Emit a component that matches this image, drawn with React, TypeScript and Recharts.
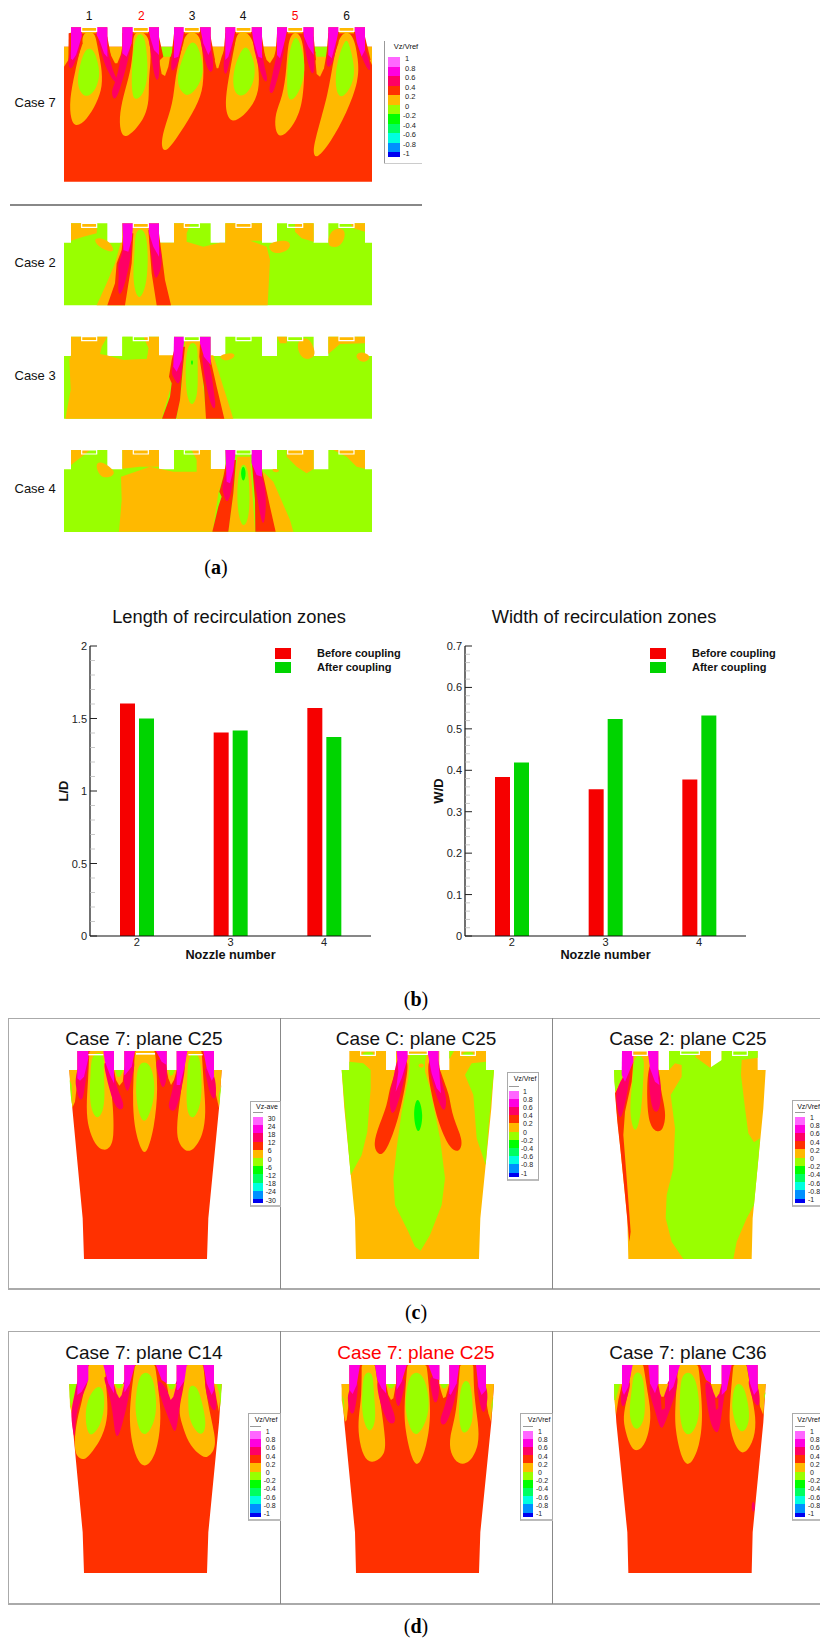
import React from 'react';
import { BarChart, Bar, XAxis, YAxis, Legend, ScatterChart, Scatter } from 'recharts';

const SANS = '"Liberation Sans", Arial, sans-serif';
const SERIF = '"Liberation Serif", serif';

// ---------- bar chart data ----------
const nozzleNumbers = ['2', '3', '4'];
const lengthBefore = [1.604, 1.404, 1.572];
const lengthAfter = [1.5, 1.418, 1.372];
const widthBefore = [0.384, 0.354, 0.378];
const widthAfter = [0.419, 0.524, 0.532];
const lengthTicks = [0, 0.1, 0.2, 0.3, 0.4, 0.5, 0.6, 0.7, 0.8, 0.9, 1, 1.1, 1.2, 1.3, 1.4, 1.5, 1.6, 1.7, 1.8, 1.9, 2];
const lengthMajor = [0, 0.5, 1, 1.5, 2];
const widthTicks = [0, 0.02, 0.04, 0.06, 0.08, 0.1, 0.12, 0.14, 0.16, 0.18, 0.2, 0.22, 0.24, 0.26, 0.28, 0.3, 0.32, 0.34, 0.36, 0.38, 0.4, 0.42, 0.44, 0.46, 0.48, 0.5, 0.52, 0.54, 0.56, 0.58, 0.6, 0.62, 0.64, 0.66, 0.68, 0.7];
const widthMajor = [0, 0.1, 0.2, 0.3, 0.4, 0.5, 0.6, 0.7];
const RED_BAR = '#f60000';
const GREEN_BAR = '#00d400';

// ---------- contour colours ----------
const OR = '#ffb900';
const RD = '#ff3000';
const RO = '#ff0064';
const MG = '#ff00e0';
const LM = '#99ff00';
const GR = '#00ff00';
const bandColors = ['#ffffff', '#ff66ff', '#ff00e0', '#ff0064', '#ff3000', '#ffb900', '#99ff00', '#00ff00', '#00ff60', '#00ffe0', '#0090ff', '#0000f0'];
const vrefLabels = ['1', '0.8', '0.6', '0.4', '0.2', '0', '-0.2', '-0.4', '-0.6', '-0.8', '-1'];
const aveLabels = ['30', '24', '18', '12', '6', '0', '-6', '-12', '-18', '-24', '-30'];

type Layer = { fill: string; stroke?: string; curve: string; pts: number[] };
const blob = (fill: string, pts: number[]): Layer => ({ fill, curve: 'basisClosed', pts });
const poly = (fill: string, pts: number[]): Layer => ({ fill, curve: fill === RO ? 'basisClosed' : 'linearClosed', pts });
const mark = (pts: number[]): Layer => ({ fill: 'none', stroke: '#ffffff', curve: 'linearClosed', pts });
const dropY = (pts: number[], dy: number) => pts.map((v, i) => (i % 2 ? v + dy : v));

// ---------- (a) strip silhouette ----------
const stripOutline = [192, 128, 213, 128, 213, 70, 322, 70, 322, 128, 367, 128, 367, 70, 477, 70, 477, 128, 522, 128, 522, 70, 632, 70, 632, 128, 676, 128, 676, 70, 786, 70, 786, 128, 831, 128, 831, 70, 941, 70, 941, 128, 985, 128, 985, 70, 1095, 70, 1095, 128, 1116, 128, 1116, 316, 192, 316];
const stripMarks = [[245, 70, 290, 70, 290, 82, 245, 82], [400, 70, 445, 70, 445, 82, 400, 82], [553, 70, 598, 70, 598, 82, 553, 82], [708, 70, 753, 70, 753, 82, 708, 82], [863, 70, 908, 70, 908, 82, 863, 82], [1017, 70, 1062, 70, 1062, 82, 1017, 82]];

const case7Layers: Layer[] = [
  poly(RD, dropY(stripOutline, 12).map((v, i) => (i % 2 && v === 328 ? 545 : v))),
  poly(OR, [192, 140, 213, 140, 213, 150, 205, 180, 192, 200]),
  poly(OR, [322, 140, 367, 140, 362, 165, 352, 190, 345, 190, 335, 170]),
  poly(OR, [478, 160, 512, 160, 505, 200, 495, 228, 485, 222, 480, 195]),
  poly(LM, [477, 140, 522, 140, 512, 170, 487, 170]),
  poly(OR, [632, 140, 676, 140, 665, 170, 655, 205, 650, 205, 640, 165]),
  poly(OR, [786, 140, 831, 140, 822, 170, 810, 190, 800, 180]),
  poly(OR, [945, 160, 980, 160, 972, 205, 960, 230, 950, 222, 947, 190]),
  poly(LM, [941, 140, 985, 140, 977, 170, 950, 170]),
  poly(OR, [1095, 140, 1116, 140, 1116, 195, 1105, 170]),
  blob(OR, [250, 95, 285, 95, 290, 130, 305, 200, 308, 260, 290, 310, 260, 360, 228, 382, 212, 360, 208, 300, 225, 215, 245, 130]),
  blob(LM, [258, 145, 280, 145, 295, 190, 300, 230, 285, 275, 258, 295, 235, 270, 232, 230, 245, 175]),
  blob(OR, [400, 95, 445, 95, 455, 170, 445, 240, 448, 300, 435, 350, 410, 385, 375, 417, 360, 395, 358, 340, 375, 270, 395, 200, 400, 130]),
  blob(LM, [405, 100, 432, 100, 440, 150, 445, 230, 430, 285, 405, 303, 395, 280, 395, 200]),
  blob(OR, [555, 95, 600, 95, 610, 170, 612, 260, 590, 320, 540, 400, 500, 458, 482, 445, 490, 390, 520, 310, 525, 230, 545, 150]),
  blob(LM, [568, 125, 590, 125, 610, 190, 608, 240, 570, 292, 545, 280, 528, 240, 545, 180]),
  blob(OR, [712, 95, 750, 95, 770, 160, 780, 240, 770, 300, 730, 350, 695, 368, 680, 345, 675, 300, 690, 210, 705, 130]),
  blob(LM, [728, 140, 745, 140, 765, 190, 765, 240, 740, 285, 715, 290, 698, 265, 700, 205]),
  blob(OR, [865, 95, 905, 95, 915, 180, 910, 300, 890, 360, 860, 400, 838, 412, 825, 390, 825, 340, 848, 290, 860, 210]),
  blob(LM, [880, 110, 895, 110, 915, 180, 912, 240, 890, 290, 870, 305, 860, 280, 862, 180]),
  blob(OR, [1020, 95, 1060, 95, 1075, 180, 1077, 240, 1040, 340, 990, 430, 950, 478, 937, 460, 950, 400, 985, 280, 1000, 180]),
  blob(LM, [1035, 120, 1045, 120, 1065, 200, 1060, 250, 1030, 295, 1010, 285, 1005, 230, 1015, 170]),
  poly(OR, [245, 82, 290, 82, 290, 100, 245, 100]), poly(OR, [400, 82, 445, 82, 445, 100, 400, 100]), poly(OR, [553, 82, 598, 82, 598, 100, 553, 100]), poly(OR, [708, 82, 753, 82, 753, 100, 708, 100]), poly(OR, [863, 82, 908, 82, 908, 100, 863, 100]), poly(OR, [1017, 82, 1062, 82, 1062, 100, 1017, 100]),
  poly(RD, [206, 100, 245, 90, 248, 130, 228, 190, 205, 190]), poly(RD, [290, 90, 322, 110, 335, 180, 320, 190, 296, 130]),
  poly(RD, [367, 100, 400, 90, 398, 130, 380, 185, 367, 190]), poly(RD, [445, 90, 477, 110, 490, 170, 470, 190, 450, 140]),
  poly(RD, [522, 100, 554, 90, 550, 130, 530, 200, 512, 190]), poly(RD, [598, 90, 632, 110, 645, 180, 625, 200, 605, 130]),
  poly(RD, [676, 100, 708, 90, 705, 130, 685, 190, 668, 190]), poly(RD, [753, 90, 786, 110, 795, 170, 775, 185, 760, 130]),
  poly(RD, [831, 100, 863, 90, 860, 130, 840, 190, 825, 180]), poly(RD, [908, 90, 941, 110, 948, 180, 930, 190, 915, 130]),
  poly(RD, [985, 100, 1018, 90, 1015, 130, 995, 190, 978, 180]), poly(RD, [1062, 90, 1095, 110, 1112, 180, 1085, 190, 1070, 130]),
  poly(RO, [213, 120, 245, 100, 238, 150, 222, 195, 212, 210, 204, 195, 207, 170, 213, 150]),
  poly(MG, [213, 82, 245, 82, 245, 110, 228, 165, 218, 180, 213, 175]),
  poly(RO, [290, 100, 322, 130, 330, 185, 345, 230, 358, 245, 345, 250, 330, 225, 312, 190, 300, 140]),
  poly(MG, [290, 82, 322, 82, 322, 172, 312, 160, 300, 125, 290, 105]),
  poly(RO, [367, 140, 398, 110, 385, 180, 365, 250, 350, 295, 340, 298, 333, 275, 345, 250, 358, 200]),
  poly(MG, [367, 82, 400, 82, 395, 130, 380, 170, 367, 160]),
  poly(RO, [445, 100, 477, 130, 478, 180, 478, 235, 470, 245, 460, 215, 450, 140]),
  poly(MG, [445, 82, 477, 82, 477, 165, 462, 150, 450, 110]),
  poly(RO, [522, 150, 550, 110, 535, 190, 520, 215, 512, 210, 515, 170]),
  poly(MG, [522, 82, 554, 82, 548, 120, 535, 170, 522, 175]),
  poly(RO, [600, 105, 632, 130, 640, 180, 640, 210, 630, 220, 618, 195, 605, 140]),
  poly(MG, [600, 82, 632, 82, 632, 150, 625, 165, 610, 130]),
  poly(RO, [670, 190, 676, 150, 705, 110, 690, 180, 680, 225, 672, 220]),
  poly(MG, [676, 82, 708, 82, 700, 120, 685, 170, 676, 180]),
  poly(RO, [755, 110, 786, 140, 790, 190, 805, 240, 795, 250, 780, 215, 765, 160]),
  poly(MG, [754, 82, 786, 82, 786, 175, 775, 170, 760, 120]),
  poly(RO, [831, 150, 860, 110, 845, 190, 825, 265, 815, 285, 805, 270, 815, 240]),
  poly(MG, [831, 82, 863, 82, 855, 120, 840, 175, 831, 165]),
  poly(RO, [908, 100, 941, 135, 945, 200, 940, 225, 930, 215, 915, 150]),
  poly(MG, [908, 82, 941, 82, 941, 165, 925, 140, 912, 110]),
  poly(RO, [985, 150, 1015, 110, 1000, 190, 985, 205, 977, 190]),
  poly(MG, [985, 82, 1018, 82, 1010, 120, 995, 175, 985, 165]),
  poly(RO, [1063, 110, 1095, 140, 1110, 190, 1112, 215, 1100, 205, 1080, 160]),
  poly(MG, [1063, 82, 1095, 82, 1095, 150, 1085, 170, 1070, 125]),
  ...stripMarks.map((m) => mark(dropY(m, 12))),
];

const case2Layers: Layer[] = [
  poly(LM, stripOutline),
  poly(OR, [213, 70, 292, 70, 290, 100, 250, 110, 213, 122]),
  blob(OR, [280, 118, 300, 112, 330, 125, 345, 155, 325, 155, 295, 140]),
  poly(OR, [290, 316, 320, 250, 345, 190, 362, 128, 367, 128, 367, 70, 477, 70, 477, 128, 522, 128, 522, 70, 572, 70, 560, 100, 560, 125, 610, 140, 660, 128, 676, 128, 676, 70, 786, 70, 786, 122, 750, 122, 800, 140, 810, 180, 803, 316]),
  blob(LM, [405, 85, 440, 85, 445, 190, 438, 260, 420, 300, 405, 280, 398, 220, 405, 150]),
  blob(OR, [805, 128, 860, 118, 875, 135, 860, 155, 825, 162, 808, 150]),
  poly(OR, [885, 70, 941, 70, 941, 125, 905, 115, 885, 95]),
  blob(OR, [985, 135, 985, 110, 1000, 85, 1035, 85, 1035, 115, 1020, 140, 995, 142]),
  poly(OR, [1050, 70, 1095, 70, 1095, 95, 1060, 85]),
  poly(RD, [370, 100, 400, 100, 395, 190, 375, 316, 322, 316, 345, 250, 350, 190, 365, 150]),
  poly(RO, [370, 130, 400, 110, 390, 190, 365, 290, 352, 280, 358, 220, 352, 195, 365, 170]),
  poly(MG, [367, 70, 400, 70, 395, 120, 385, 155, 370, 150]),
  poly(RD, [445, 90, 477, 100, 490, 200, 495, 240, 513, 316, 470, 316, 455, 220]),
  poly(RO, [445, 100, 477, 120, 490, 190, 470, 240, 462, 230, 452, 150]),
  poly(MG, [445, 70, 477, 70, 477, 170, 460, 140, 447, 100]),
  ...stripMarks.map(mark),
];

const case3Layers: Layer[] = [
  poly(LM, dropY(stripOutline, 340)),
  poly(OR, [213, 410, 322, 410, 305, 440, 300, 462, 320, 466, 370, 480, 440, 476, 445, 445, 430, 410, 477, 410, 477, 466, 522, 466, 515, 520, 510, 570, 485, 656, 196, 656, 212, 570, 208, 480, 213, 466]),
  poly(OR, [632, 466, 640, 466, 700, 656, 660, 656, 620, 480]),
  poly(LM, [367, 410, 430, 410, 445, 445, 440, 476, 370, 476, 367, 466]),
  poly(OR, [555, 420, 600, 420, 610, 560, 620, 656, 530, 656, 545, 560]),
  blob(LM, [560, 425, 595, 425, 592, 500, 595, 580, 578, 622, 562, 600, 555, 530]),
  blob(GR, [576, 478, 580, 487, 576, 498, 572, 487]),
  blob(OR, [655, 466, 700, 456, 708, 470, 680, 484, 665, 478]),
  poly(OR, [831, 410, 860, 410, 860, 430, 840, 430]),
  blob(OR, [890, 420, 925, 410, 941, 440, 948, 470, 915, 482, 895, 460]),
  poly(OR, [985, 410, 1095, 410, 1095, 430, 1020, 432, 985, 462]),
  blob(OR, [1065, 465, 1085, 453, 1117, 470, 1095, 489, 1075, 482]),
  poly(RD, [525, 440, 555, 440, 548, 510, 540, 600, 528, 656, 486, 656, 510, 590, 515, 550, 507, 530, 515, 480]),
  poly(RO, [525, 470, 553, 430, 545, 530, 535, 560, 520, 530, 512, 520]),
  poly(MG, [522, 410, 554, 410, 545, 480, 530, 515, 520, 500]),
  poly(RD, [600, 430, 632, 480, 650, 560, 673, 656, 618, 656, 612, 560, 598, 470]),
  poly(RO, [600, 440, 632, 490, 640, 570, 650, 625, 635, 630, 615, 540]),
  poly(MG, [600, 410, 632, 410, 632, 495, 612, 470, 600, 430]),
  ...stripMarks.map((m) => mark(dropY(m, 340))),
];

const case4Layers: Layer[] = [
  poly(LM, dropY(stripOutline, 680)),
  poly(OR, [213, 750, 270, 750, 245, 770, 213, 795]),
  blob(OR, [285, 795, 300, 780, 352, 815, 330, 834, 300, 832]),
  poly(OR, [367, 750, 477, 750, 477, 800, 420, 800, 367, 806]),
  poly(OR, [363, 830, 450, 800, 520, 815, 590, 815, 590, 780, 575, 750, 632, 750, 632, 807, 676, 807, 655, 880, 638, 995, 357, 995, 365, 900]),
  poly(OR, [712, 770, 750, 770, 765, 995, 685, 995, 700, 880]),
  blob(LM, [718, 790, 745, 790, 750, 900, 745, 960, 730, 985, 715, 950, 710, 880]),
  blob(GR, [730, 790, 740, 820, 730, 852, 720, 820]),
  poly(OR, [790, 815, 820, 845, 870, 960, 880, 995, 825, 995, 790, 860]),
  poly(OR, [860, 750, 941, 750, 941, 807, 920, 820, 890, 800, 860, 770]),
  blob(OR, [815, 805, 840, 808, 835, 818, 818, 816]),
  poly(OR, [1000, 750, 1095, 750, 1095, 806, 1070, 800, 1040, 770]),
  poly(RD, [680, 780, 708, 780, 700, 880, 685, 995, 637, 995, 655, 920, 665, 890, 658, 875, 670, 830]),
  poly(RO, [680, 810, 708, 780, 695, 880, 680, 915, 670, 880, 665, 860]),
  poly(MG, [676, 750, 708, 750, 700, 810, 690, 850, 680, 845]),
  poly(RD, [755, 780, 786, 810, 810, 920, 827, 995, 766, 995, 765, 900]),
  poly(RO, [755, 790, 786, 815, 800, 880, 795, 970, 785, 975, 770, 880]),
  poly(MG, [754, 750, 786, 750, 786, 830, 770, 825, 755, 790]),
  ...stripMarks.map((m) => mark(dropY(m, 680))),
];

// ---------- (c), (d) silhouettes ----------
const leftBody = [28, 75, 52, 75, 52, 18, 162, 18, 162, 75, 193, 75, 193, 18, 320, 18, 320, 75, 350, 75, 350, 18, 462, 18, 462, 75, 485, 75, 477, 190, 445, 520, 441, 642, 72, 642, 68, 520, 37, 190];
const midBody = [35, 75, 58, 75, 58, 18, 168, 18, 168, 75, 198, 75, 198, 18, 328, 18, 328, 75, 358, 75, 358, 18, 468, 18, 468, 75, 492, 75, 484, 190, 451, 520, 447, 642, 78, 642, 75, 520, 43, 190];
const rightBody = [42, 75, 66, 75, 66, 18, 175, 18, 175, 75, 207, 75, 207, 18, 333, 18, 333, 75, 365, 75, 365, 18, 473, 18, 473, 75, 497, 75, 490, 190, 458, 520, 455, 642, 85, 642, 82, 520, 49, 190];
const marksLeft = [[85, 27, 130, 27, 130, 31, 85, 31], [228, 24, 285, 24, 285, 29, 228, 29], [385, 27, 428, 27, 428, 31, 385, 31]];
const marksMid = [[92, 18, 136, 18, 136, 31, 92, 31], [235, 18, 292, 18, 292, 28, 235, 28], [392, 18, 436, 18, 436, 31, 392, 31]];
const marksRight = [[98, 18, 142, 18, 142, 31, 98, 31], [242, 18, 298, 18, 298, 28, 242, 28], [398, 18, 442, 18, 442, 31, 398, 31]];

const c1Layers: Layer[] = [
  poly(RD, leftBody),
  poly(OR, [28, 75, 52, 75, 52, 110, 45, 170, 37, 188, 30, 110]),
  poly(LM, [29, 105, 35, 120, 37, 185, 32, 150]),
  poly(OR, [462, 75, 485, 75, 477, 188, 468, 150, 462, 100]),
  poly(LM, [484, 120, 478, 180, 476, 150]),
  poly(OR, [162, 75, 193, 75, 188, 110, 178, 122, 168, 105]),
  poly(LM, [165, 75, 190, 75, 180, 95, 172, 95]),
  poly(OR, [320, 75, 350, 75, 342, 105, 333, 120, 325, 100]),
  poly(LM, [325, 75, 345, 75, 338, 90, 330, 92]),
  blob(OR, [88, 18, 88, 18, 145, 18, 145, 18, 150, 100, 160, 190, 162, 280, 150, 310, 130, 318, 105, 300, 85, 250, 78, 190, 85, 100]),
  blob(LM, [95, 22, 135, 22, 130, 70, 135, 150, 130, 200, 112, 225, 95, 200, 88, 150, 92, 80]),
  blob(OR, [225, 18, 225, 18, 285, 18, 285, 18, 295, 130, 283, 250, 260, 328, 245, 320, 225, 260, 218, 180, 220, 100]),
  blob(LM, [235, 50, 270, 50, 285, 110, 282, 170, 258, 238, 240, 220, 228, 160, 228, 110]),
  blob(OR, [380, 18, 380, 18, 425, 18, 425, 18, 432, 130, 438, 200, 430, 270, 400, 318, 375, 320, 352, 290, 350, 240, 360, 160]),
  blob(LM, [385, 22, 420, 22, 425, 100, 425, 170, 405, 222, 385, 215, 378, 170, 382, 100]),
  poly(RO, [52, 60, 85, 30, 85, 60, 75, 120, 68, 170, 55, 160, 50, 130, 45, 115]),
  poly(MG, [52, 18, 85, 18, 85, 40, 72, 95, 60, 107, 52, 100]),
  poly(RO, [130, 40, 162, 80, 170, 130, 195, 180, 185, 198, 165, 185, 150, 140, 135, 80]),
  poly(MG, [130, 18, 162, 18, 162, 115, 150, 90, 135, 50]),
  poly(RO, [193, 50, 230, 40, 215, 100, 205, 145, 195, 130, 190, 100]),
  poly(MG, [193, 18, 225, 18, 215, 65, 195, 90, 193, 90]),
  poly(RO, [283, 40, 320, 40, 322, 90, 315, 125, 305, 130, 295, 90]),
  poly(MG, [288, 18, 320, 18, 320, 60, 305, 50]),
  poly(RO, [345, 90, 382, 40, 365, 130, 350, 195, 335, 200, 322, 185, 335, 150]),
  poly(MG, [350, 18, 382, 18, 375, 60, 360, 120, 350, 120]),
  poly(RO, [430, 60, 462, 80, 470, 130, 465, 170, 450, 150, 440, 100]),
  poly(MG, [430, 18, 462, 18, 462, 95, 455, 107, 440, 70]),
  ...marksLeft.map((m) => poly('#ffffff', m)),
];

const c2Layers: Layer[] = [
  poly(OR, midBody),
  poly(LM, [35, 75, 58, 75, 58, 50, 100, 55, 122, 75, 122, 130, 112, 260, 95, 330, 62, 390, 50, 250]),
  blob(LM, [95, 20, 135, 20, 128, 35, 100, 35]),
  poly(LM, [240, 26, 290, 26, 285, 50, 285, 80, 300, 130, 330, 280, 345, 400, 335, 480, 300, 570, 272, 617, 255, 605, 235, 560, 195, 480, 190, 400, 200, 310, 215, 200, 235, 100]),
  blob(OR, [265, 55, 282, 55, 282, 68, 265, 68]),
  poly(LM, [468, 50, 425, 55, 405, 90, 430, 150, 440, 280, 467, 360, 475, 250, 492, 75, 468, 75]),
  poly(LM, [358, 18, 372, 18, 358, 42]),
  blob(LM, [395, 20, 435, 20, 428, 35, 400, 35]),
  blob(GR, [262, 142, 283, 210, 265, 282, 247, 210]),
  blob(RD, [205, 40, 238, 40, 228, 110, 208, 215, 168, 325, 145, 332, 128, 300, 148, 238, 172, 180, 178, 130, 198, 80]),
  poly(RO, [200, 30, 235, 30, 225, 100, 195, 210, 180, 205, 178, 140, 190, 110]),
  poly(MG, [200, 18, 233, 18, 233, 40, 215, 100, 197, 140, 205, 80]),
  blob(RD, [288, 40, 320, 40, 347, 125, 358, 150, 368, 220, 400, 285, 390, 322, 362, 316, 326, 240, 302, 140]),
  poly(RO, [290, 30, 328, 30, 330, 100, 352, 155, 345, 210, 325, 170, 305, 110]),
  poly(MG, [292, 18, 326, 18, 326, 60, 333, 145, 320, 130, 305, 85]),
  ...marksMid.map(mark),
];

const c3Layers: Layer[] = [
  poly(OR, rightBody),
  poly(LM, [42, 75, 66, 75, 66, 100, 46, 140, 43, 110]),
  blob(LM, [100, 30, 135, 30, 130, 90, 125, 200, 108, 272, 92, 230, 90, 170, 100, 90]),
  poly(LM, [207, 18, 300, 18, 285, 35, 330, 68, 365, 45, 365, 18, 473, 18, 473, 38, 425, 45, 423, 90, 435, 190, 445, 265, 462, 292, 480, 280, 476, 330, 462, 480, 440, 520, 410, 590, 400, 642, 250, 642, 215, 590, 197, 520, 200, 450, 220, 370, 225, 250, 212, 150, 245, 95, 245, 60, 225, 55, 207, 75]),
  poly(RD, [45, 145, 70, 100, 100, 50, 95, 110, 75, 200, 70, 270, 80, 400, 92, 560, 88, 590, 75, 450, 62, 320, 52, 230]),
  poly(RO, [45, 145, 65, 100, 95, 60, 85, 130, 62, 240, 52, 190]),
  poly(MG, [66, 18, 100, 18, 100, 50, 75, 110, 65, 90]),
  blob(RD, [143, 50, 175, 50, 175, 90, 190, 170, 198, 210, 190, 255, 170, 263, 148, 240, 140, 170]),
  poly(RO, [145, 40, 175, 60, 185, 130, 180, 200, 160, 205, 148, 150]),
  poly(MG, [143, 18, 175, 18, 175, 100, 178, 120, 165, 110, 150, 70]),
  ...marksRight.map(mark),
];

const d1Layers: Layer[] = [
  poly(RD, dropY(leftBody, -63)),
  poly(OR, [28, 12, 52, 12, 52, 50, 35, 100, 30, 80]),
  poly(LM, [28, 12, 52, 12, 45, 35, 33, 85, 29, 50]),
  blob(OR, [85, -45, 85, -45, 135, -45, 135, -45, 140, 40, 145, 100, 130, 170, 85, 232, 70, 240, 48, 230, 42, 190, 50, 120, 70, 50]),
  blob(LM, [110, 15, 130, 25, 135, 70, 125, 130, 100, 165, 85, 165, 75, 120, 80, 60]),
  poly(RO, [52, -10, 85, -20, 85, 10, 60, 60, 45, 120, 45, 190, 35, 130, 33, 90, 45, 40]),
  poly(MG, [52, -45, 85, -45, 85, 0, 65, 35, 52, 45]),
  poly(RO, [130, -20, 162, 10, 178, 55, 193, -10, 215, -10, 205, 60, 190, 120, 175, 175, 165, 165, 160, 110, 150, 50, 135, 10]),
  poly(OR, [162, 12, 193, 12, 185, 45, 178, 55, 170, 40]),
  poly(LM, [165, 12, 190, 12, 183, 25, 172, 25]),
  poly(MG, [130, -45, 162, -45, 162, 40, 145, 10]),
  poly(MG, [193, -45, 225, -45, 210, 10, 195, 35, 193, 35]),
  blob(OR, [225, -45, 225, -45, 285, -45, 285, -45, 300, 60, 303, 130, 290, 220, 260, 264, 235, 250, 215, 190, 208, 120, 212, 50]),
  blob(LM, [240, -25, 275, -25, 290, 50, 288, 120, 258, 173, 235, 150, 225, 90, 228, 40]),
  poly(RO, [288, -10, 318, 20, 332, 60, 350, -10, 382, -20, 365, 40, 355, 110, 347, 165, 335, 140, 320, 100, 300, 50]),
  poly(OR, [320, 12, 350, 12, 340, 50, 332, 60, 325, 40]),
  poly(LM, [323, 12, 347, 12, 340, 28, 330, 28]),
  poly(MG, [288, -45, 320, -45, 320, 10, 305, 0]),
  poly(MG, [350, -45, 382, -45, 375, 0, 355, 30, 350, 30]),
  blob(OR, [380, -45, 380, -45, 430, -45, 430, -45, 440, 60, 467, 170, 465, 210, 440, 238, 415, 222, 385, 190, 365, 130, 355, 90, 370, 30]),
  blob(LM, [385, 15, 410, 15, 425, 60, 440, 130, 430, 165, 410, 160, 385, 115, 385, 60]),
  poly(RO, [430, -20, 462, -10, 470, 50, 470, 95, 455, 90, 440, 50]),
  poly(MG, [430, -45, 462, -45, 462, 30, 455, 45, 440, 10]),
  poly(OR, [462, 12, 485, 12, 477, 95, 470, 60]),
  poly(LM, [485, 12, 470, 12, 478, 40, 482, 80]),
];

const d2Layers: Layer[] = [
  poly(RD, dropY(midBody, -63)),
  poly(OR, [35, 12, 58, 12, 58, 50, 50, 120, 45, 125, 35, 60]),
  poly(LM, [36, 45, 42, 60, 43, 100]),
  poly(OR, [468, 12, 492, 12, 483, 125, 475, 100, 468, 60]),
  poly(LM, [490, 50, 486, 100, 484, 75]),
  blob(OR, [95, -45, 95, -45, 135, -45, 135, -45, 150, 60, 170, 195, 160, 230, 125, 252, 100, 232, 85, 170, 85, 110, 95, 50]),
  blob(LM, [100, -25, 130, -25, 130, 30, 140, 120, 122, 160, 105, 140, 95, 90, 97, 40]),
  blob(OR, [232, -45, 232, -45, 290, -45, 290, -45, 305, 100, 290, 200, 265, 264, 245, 240, 225, 150, 222, 80]),
  blob(LM, [240, -25, 280, -25, 300, 60, 292, 120, 262, 173, 240, 150, 225, 90, 228, 40]),
  blob(OR, [390, -45, 390, -45, 430, -45, 430, -45, 432, 50, 445, 130, 448, 195, 420, 250, 385, 255, 360, 220, 358, 170, 380, 100]),
  blob(LM, [395, 0, 420, 0, 428, 60, 430, 130, 405, 165, 390, 150, 385, 80]),
  poly(OR, [168, 12, 198, 12, 190, 55, 183, 60, 175, 45]),
  poly(LM, [170, 12, 195, 12, 188, 25, 178, 25]),
  poly(OR, [328, 12, 358, 12, 347, 50, 340, 55, 332, 30]),
  poly(LM, [330, 12, 355, 12, 346, 25, 338, 25]),
  poly(RO, [55, 30, 88, -10, 80, 60, 72, 105, 60, 100, 52, 60]),
  poly(MG, [58, -45, 90, -45, 80, 15, 68, 42, 58, 30]),
  poly(RO, [135, -10, 168, 20, 175, 60, 200, 115, 190, 135, 170, 125, 150, 70]),
  poly(MG, [135, -45, 168, -45, 168, 40, 155, 25, 142, 0]),
  poly(RO, [198, 0, 232, -10, 215, 55, 207, 85, 198, 70, 195, 40]),
  poly(MG, [198, -45, 230, -45, 215, 5, 200, 30]),
  poly(RO, [295, -15, 328, -10, 328, 50, 315, 78, 305, 40]),
  poly(MG, [295, -45, 328, -45, 328, 0, 310, -5]),
  poly(RO, [358, 20, 390, -15, 375, 60, 350, 135, 335, 135, 328, 120, 345, 80]),
  poly(MG, [358, -45, 388, -45, 380, 10, 362, 45, 358, 40]),
  poly(RO, [438, -10, 468, 10, 475, 50, 465, 100, 455, 95, 445, 50]),
  poly(MG, [438, -45, 468, -45, 468, 30, 455, 45, 445, 20]),
];

const d3Layers: Layer[] = [
  poly(RD, dropY(rightBody, -63)),
  poly(OR, [42, 12, 66, 12, 55, 60, 48, 105, 42, 50]),
  poly(LM, [42, 12, 60, 12, 47, 60, 43, 60]),
  poly(OR, [473, 12, 497, 12, 490, 105, 480, 80]),
  poly(LM, [497, 35, 493, 60, 492, 45]),
  blob(OR, [95, -45, 95, -45, 130, -45, 130, -45, 145, 50, 155, 110, 140, 190, 110, 218, 90, 200, 72, 140, 70, 100, 85, 40]),
  blob(LM, [100, -25, 130, -25, 135, 60, 135, 120, 110, 158, 90, 125, 88, 80, 97, 20]),
  blob(OR, [235, -45, 235, -45, 295, -45, 295, -45, 310, 100, 300, 200, 268, 264, 245, 240, 225, 150, 225, 80]),
  blob(LM, [245, -25, 285, -25, 300, 70, 295, 130, 268, 173, 245, 150, 238, 90, 240, 40]),
  blob(OR, [400, -45, 400, -45, 440, -45, 440, -45, 455, 50, 468, 110, 465, 175, 435, 226, 410, 210, 390, 150, 387, 100]),
  blob(LM, [405, 10, 430, 10, 445, 70, 450, 125, 430, 162, 410, 145, 395, 90, 398, 50]),
  poly(RO, [145, 0, 175, 10, 188, 60, 205, -10, 240, -20, 225, 50, 205, 100, 187, 155, 175, 130, 165, 90, 150, 50]),
  poly(OR, [175, 12, 205, 12, 195, 40, 188, 60, 180, 40]),
  poly(RD, [182, 50, 195, 50, 195, 85, 185, 90]),
  poly(RO, [310, -5, 333, 12, 350, 50, 362, 12, 385, -10, 370, 60, 362, 130, 353, 167, 335, 140, 325, 100]),
  poly(OR, [333, 12, 365, 12, 358, 40, 348, 55, 340, 35]),
  poly(RD, [345, 55, 355, 55, 355, 85, 348, 90]),
  poly(RO, [62, 30, 98, -10, 80, 60, 70, 85, 62, 70]),
  poly(MG, [66, -45, 98, -45, 85, 20, 72, 45, 66, 30]),
  poly(MG, [145, -45, 175, -45, 175, 10, 165, 40, 150, 10]),
  poly(MG, [207, -45, 240, -45, 220, 20, 207, 35]),
  poly(MG, [300, -45, 333, -45, 333, 10, 318, 0]),
  poly(MG, [365, -45, 395, -45, 380, 30, 365, 45]),
  poly(RO, [440, -10, 473, 10, 480, 50, 478, 80, 465, 75, 452, 40]),
  poly(MG, [440, -45, 473, -45, 473, 30, 462, 45, 450, 10]),
  blob(RO, [460, 358, 467, 380, 460, 402, 453, 380]),
];

const noDot = () => <g />;

function Contour({ left, top, w, h, y0 = 0, layers }: { left: number; top: number; w: number; h: number; y0?: number; layers: Layer[] }) {
  return (
    <div style={{ position: 'absolute', left, top, width: w, height: h }}>
      <ScatterChart width={w} height={h} margin={{ top: 0, right: 0, bottom: 0, left: 0 }}>
        <XAxis type="number" dataKey="x" hide domain={[0, w * 3]} allowDataOverflow />
        <YAxis type="number" dataKey="y" hide domain={[y0, y0 + h * 3]} reversed allowDataOverflow width={0} />
        {layers.map((l, i) => (
          <Scatter
            key={i}
            isAnimationActive={false}
            data={l.pts.filter((_, k) => k % 2 === 0).map((x, k) => ({ x, y: l.pts[k * 2 + 1] }))}
            shape={noDot}
            fill={l.fill}
            lineJointType={l.curve as any}
            line={{ fill: l.fill, stroke: l.stroke || 'none', strokeWidth: 1.2 } as any}
          />
        ))}
      </ScatterChart>
    </div>
  );
}

function Txt({ x, y, children, size = 12, color = '#111', anchor = 'center', weight = 400, family = SANS }: any) {
  const tx = anchor === 'center' ? 'translate(-50%,-50%)' : 'translate(0,-50%)';
  return <div style={{ position: 'absolute', left: x, top: y, transform: tx, fontSize: size, color, fontWeight: weight, fontFamily: family, whiteSpace: 'nowrap', lineHeight: 1 }}>{children}</div>;
}

function ColorKey({ frame, barX, barY, barW, step, labels, labelX, labelY, title, titleX, titleY, white = true, size = 7 }: any) {
  const colors = white ? bandColors : bandColors.slice(1);
  let y = barY;
  return (
    <>
      {frame && <div style={{ position: 'absolute', left: frame[0], top: frame[1], width: frame[2], height: frame[3], boxSizing: 'border-box', border: '1px solid #aaa', borderBottom: '2px solid #bbb', background: '#fff' }} />}
      {colors.map((c: string, i: number) => {
        const h = c === '#ffffff' ? step * 0.6 : i === colors.length - 1 ? step * 0.5 : step;
        const top = y;
        y += h;
        return <div key={i} style={{ position: 'absolute', left: barX, top, width: barW, height: h, background: c, boxSizing: 'border-box', borderTop: c === '#ffffff' ? '1px solid #999' : undefined }} />;
      })}
      <Txt x={titleX} y={titleY} size={size}>{title}</Txt>
      {labels.map((t: string, i: number) => (
        <Txt key={t} x={labelX - (t[0] === '-' ? 2 : 0)} y={labelY + i * step} size={size} anchor="start" color="#222">{t}</Txt>
      ))}
    </>
  );
}

function BarLegend({ payload }: any) {
  return (
    <div style={{ fontFamily: SANS, fontSize: 11, fontWeight: 700, color: '#111' }}>
      {(payload || []).map((p: any) => (
        <div key={p.value} style={{ position: 'relative', height: 14, width: 125 }}>
          <div style={{ position: 'absolute', left: 0, top: 0, width: 16, height: 11, background: p.color }} />
          <div style={{ position: 'absolute', left: 42, top: -1, lineHeight: '13px', whiteSpace: 'nowrap' }}>{p.value}</div>
        </div>
      ))}
    </div>
  );
}

function BarPanel({ left, before, after, ticks, major, max, ylabel }: any) {
  const data = nozzleNumbers.map((n, i) => ({ n, before: before[i], after: after[i] }));
  const renderTick = ({ x, y, payload }: any) => {
    const isMajor = major.includes(payload.value);
    return (
      <g>
        <line x1={x} x2={x + (isMajor ? 7 : 5)} y1={y} y2={y} stroke={isMajor ? '#222' : '#bbb'} strokeWidth={isMajor ? 1 : 0.8} />
        {isMajor && <text x={x - 3} y={y + 4} textAnchor="end" fontSize={11} fontFamily={SANS} fill="#222">{payload.value}</text>}
      </g>
    );
  };
  return (
    <div style={{ position: 'absolute', left, top: 630, width: 400, height: 340 }}>
      <BarChart width={400} height={340} data={data} barSize={15} barGap={4} margin={{ top: 16, right: 29, bottom: 0, left: 0 }}>
        <XAxis
          dataKey="n"
          height={34}
          tickLine={false}
          axisLine={{ stroke: '#111', strokeWidth: 1.2 }}
          tick={{ fontSize: 11, fontFamily: SANS, fill: '#222' }}
          tickMargin={1}
          tickSize={1}
          label={{ value: 'Nozzle number', position: 'insideBottom', offset: 11, fontSize: 12.7, fontWeight: 700, fontFamily: SANS, fill: '#111' }}
        />
        <YAxis
          width={90}
          domain={[0, max]}
          ticks={ticks}
          interval={0}
          tickLine={false}
          tickSize={0}
          tickMargin={0}
          axisLine={{ stroke: '#111', strokeWidth: 1.2 }}
          tick={renderTick}
          label={{ value: ylabel, angle: -90, position: 'center', dx: 18, fontSize: 13, fontWeight: 700, fontFamily: SANS, fill: '#111' }}
        />
        <Legend layout="vertical" align="center" verticalAlign="middle" itemSorter={null as any} content={BarLegend as any} wrapperStyle={{ left: 275, top: 18, width: 125 }} />
        <Bar dataKey="before" name="Before coupling" fill={RED_BAR} isAnimationActive={false} />
        <Bar dataKey="after" name="After coupling" fill={GREEN_BAR} isAnimationActive={false} />
      </BarChart>
    </div>
  );
}

const Cap = ({ x, y, letter }: any) => (
  <Txt x={x} y={y} size={20} family={SERIF} color="#000">(<b>{letter}</b>)</Txt>
);

const Rule = ({ x, y, w, h, c = '#aaa' }: any) => <div style={{ position: 'absolute', left: x, top: y, width: w, height: h, background: c }} />;

export default function App() {
  return (
    <div style={{ position: 'absolute', left: 0, top: 0, width: 820, height: 1641, overflow: 'hidden', background: '#fff' }}>
      {/* (a) */}
      {['1', '2', '3', '4', '5', '6'].map((t, i) => (
        <Txt key={t} x={[89, 141.3, 192, 243, 295, 346.7][i]} y={16} size={12} color={t === '2' || t === '5' ? '#f00' : '#111'}>{t}</Txt>
      ))}
      <Contour left={0} top={0} w={430} h={190} layers={case7Layers} />
      <Contour left={0} top={200} w={430} h={340} layers={[...case2Layers, ...case3Layers, ...case4Layers]} />
      <Txt x={14.5} y={102} size={13} anchor="start">Case 7</Txt>
      <Txt x={14.5} y={262} size={13} anchor="start">Case 2</Txt>
      <Txt x={14.5} y={375} size={13} anchor="start">Case 3</Txt>
      <Txt x={14.5} y={488} size={13} anchor="start">Case 4</Txt>
      <Rule x={10} y={204} w={412} h={1.5} c="#888" />
      <Rule x={384} y={41} w={1} h={122} c="#999" />
      <Rule x={384} y={163} w={38} h={1} c="#ccc" />
      <ColorKey barX={388} barY={57} barW={11.5} step={9.5} white={false} labels={vrefLabels} labelX={405} labelY={59} title="Vz/Vref" titleX={406} titleY={47} size={7.5} />
      <Cap x={216} y={567} letter="a" />

      {/* (b) */}
      <BarPanel left={0} before={lengthBefore} after={lengthAfter} ticks={lengthTicks} major={lengthMajor} max={2} ylabel="L/D" />
      <BarPanel left={375} before={widthBefore} after={widthAfter} ticks={widthTicks} major={widthMajor} max={0.7} ylabel="W/D" />
      <Txt x={229} y={617} size={18.3}>Length of recirculation zones</Txt>
      <Txt x={604} y={617} size={18.3}>Width of recirculation zones</Txt>
      <Cap x={416} y={999} letter="b" />

      {/* (c) */}
      <Rule x={8} y={1018} w={812} h={1} />
      <Rule x={8} y={1288} w={812} h={1.5} />
      <Rule x={8} y={1018} w={1} h={271} />
      <Rule x={280} y={1018} w={1} h={271} c="#888" />
      <Rule x={552} y={1018} w={1} h={271} c="#888" />
      <Txt x={144} y={1038} size={19}>Case 7: plane C25</Txt>
      <Txt x={416} y={1038} size={19}>Case C: plane C25</Txt>
      <Txt x={688} y={1038} size={19}>Case 2: plane C25</Txt>
      <Contour left={60} top={1045} w={230} h={225} layers={c1Layers} />
      <Contour left={330} top={1045} w={230} h={225} layers={c2Layers} />
      <Contour left={600} top={1045} w={220} h={225} layers={c3Layers} />
      <ColorKey frame={[250, 1100.5, 31, 106.5]} barX={252.7} barY={1112} barW={10} step={8.2} labels={aveLabels} labelX={267.7} labelY={1117.5} title="Vz-ave" titleX={267} titleY={1106} />
      <ColorKey frame={[506.7, 1071.5, 32, 109.5]} barX={509.3} barY={1085.7} barW={10} step={8.2} labels={vrefLabels} labelX={523} labelY={1090.5} title="Vz/Vref" titleX={525} titleY={1078} />
      <ColorKey frame={[792, 1100, 40, 107]} barX={795.3} barY={1111.7} barW={10} step={8.2} labels={vrefLabels} labelX={810} labelY={1117} title="Vz/Vref" titleX={808.5} titleY={1106} />
      <Cap x={416} y={1312} letter="c" />

      {/* (d) */}
      <Rule x={8} y={1331} w={812} h={1} />
      <Rule x={8} y={1603} w={812} h={1.5} />
      <Rule x={8} y={1331} w={1} h={273} />
      <Rule x={280} y={1331} w={1} h={273} c="#888" />
      <Rule x={552} y={1331} w={1} h={273} c="#888" />
      <Txt x={144} y={1352} size={19}>Case 7: plane C14</Txt>
      <Txt x={416} y={1352} size={19} color="#f00">Case 7: plane C25</Txt>
      <Txt x={688} y={1352} size={19}>Case 7: plane C36</Txt>
      <Contour left={60} top={1360} w={230} h={220} y0={-60} layers={d1Layers} />
      <Contour left={330} top={1360} w={230} h={220} y0={-60} layers={d2Layers} />
      <Contour left={600} top={1360} w={220} h={220} y0={-60} layers={d3Layers} />
      <ColorKey frame={[247.7, 1413, 33, 108]} barX={250.3} barY={1425.7} barW={10.3} step={8.2} labels={vrefLabels} labelX={265.7} labelY={1431} title="Vz/Vref" titleX={266} titleY={1419} />
      <ColorKey frame={[520, 1413, 33, 108]} barX={523} barY={1425.7} barW={10} step={8.2} labels={vrefLabels} labelX={538} labelY={1431} title="Vz/Vref" titleX={539} titleY={1419} />
      <ColorKey frame={[792, 1413, 40, 108]} barX={795} barY={1425.7} barW={10.3} step={8.2} labels={vrefLabels} labelX={810} labelY={1431} title="Vz/Vref" titleX={808.5} titleY={1419} />
      <Cap x={416} y={1626} letter="d" />
    </div>
  );
}
